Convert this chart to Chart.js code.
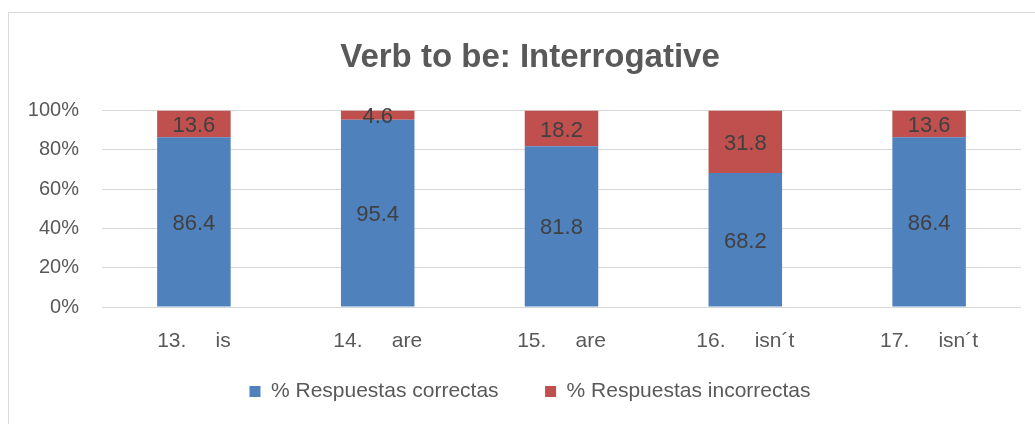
<!DOCTYPE html>
<html>
<head>
<meta charset="utf-8">
<title>Verb to be: Interrogative</title>
<script src="https://cdn.jsdelivr.net/npm/chart.js@4"></script>
<style>
  html, body { margin: 0; padding: 0; background: #ffffff; }
  body { width: 1035px; height: 424px; position: relative; overflow: hidden; }
  .frame {
    position: absolute; left: 8px; top: 12px;
    width: 1100px; height: 500px;
    border: 1px solid #d9d9d9;
  }
  #myChart { position: absolute; left: 0; top: 0; }
</style>
</head>
<body>
<div class="frame"></div>
<canvas id="myChart" width="1035" height="424"></canvas>
<script>
// questions and the verb form asked in each one
const questionNumbers = ['13.', '14.', '15.', '16.', '17.'];
const verbForms = ['is', 'are', 'are', 'isn\u00b4t', 'isn\u00b4t'];

// percentages per question
const correctas = [86.4, 95.4, 81.8, 68.2, 86.4];
const incorrectas = [13.6, 4.6, 18.2, 31.8, 13.6];

const yTicks = [0, 20, 40, 60, 80, 100];

// number and verb separated like a tab stop
const labels = questionNumbers.map((n, i) => n + '     ' + verbForms[i]);

const fontFamily = '"Liberation Sans", Arial, sans-serif';

// writes each segment's value in the middle of the segment
const valueLabels = {
  id: 'valueLabels',
  afterDatasetsDraw(chart) {
    const ctx = chart.ctx;
    ctx.save();
    ctx.font = '22px ' + fontFamily;
    ctx.fillStyle = '#404040';
    ctx.textAlign = 'center';
    ctx.textBaseline = 'middle';
    chart.data.datasets.forEach((ds, di) => {
      const meta = chart.getDatasetMeta(di);
      meta.data.forEach((bar, i) => {
        const p = bar.getProps(['x', 'y', 'base'], true);
        ctx.fillText(ds.data[i].toString(), p.x, (p.y + p.base) / 2 + 2);
      });
    });
    ctx.restore();
  }
};

const data = {
  labels: labels,
  datasets: [
    {
      label: '% Respuestas correctas',
      data: correctas,
      backgroundColor: '#4f81bd',
      barPercentage: 0.4,
      categoryPercentage: 1,
      yAxisID: 'y'
    },
    {
      label: '% Respuestas incorrectas',
      data: incorrectas,
      backgroundColor: '#c0504d',
      barPercentage: 0.4,
      categoryPercentage: 1,
      yAxisID: 'y'
    }
  ]
};

const config = {
  type: 'bar',
  data: data,
  options: {
    responsive: false,
    animation: false,
    layout: {
      padding: { left: 27, right: 2, top: 12, bottom: 12 }
    },
    scales: {
      x: {
        stacked: true,
        grid: { display: false },
        border: { display: false },
        ticks: {
          color: '#595959',
          padding: 15,
          maxRotation: 0,
          autoSkip: false,
          font: { family: fontFamily, size: 21, lineHeight: 1.1 }
        },
        afterFit: function (scale) { scale.height = 45; }
      },
      y: {
        stacked: true,
        min: 0,
        max: 100,
        afterBuildTicks: function (scale) {
          scale.ticks = yTicks.map(v => ({ value: v }));
        },
        grid: { color: '#d9d9d9', lineWidth: 1, drawTicks: false },
        border: { display: false },
        ticks: {
          color: '#595959',
          padding: 23,
          font: { family: fontFamily, size: 20 },
          callback: function (value) { return value + '%'; }
        },
        afterFit: function (scale) { scale.width = 75; }
      },
      // empty strip on the right so the title and legend sit centred on the frame
      yRight: {
        position: 'right',
        grid: { display: false },
        border: { display: false },
        ticks: { display: false },
        afterFit: function (scale) { scale.width = 12; }
      }
    },
    plugins: {
      title: {
        display: true,
        text: 'Verb to be: Interrogative',
        color: '#595959',
        font: { family: fontFamily, size: 33, weight: 'bold', lineHeight: 1.2 },
        padding: { top: 26, bottom: 33 }
      },
      legend: {
        position: 'bottom',
        labels: {
          color: '#595959',
          boxWidth: 11,
          boxHeight: 11,
          padding: 29,
          font: { family: fontFamily, size: 21 },
          // a little extra room after the first entry
          generateLabels: function (chart) {
            const items = Chart.defaults.plugins.legend.labels.generateLabels(chart);
            items[0].text = items[0].text + '   ';
            return items;
          }
        }
      },
      tooltip: { enabled: false }
    }
  },
  plugins: [valueLabels]
};

const myChart = new Chart(document.getElementById('myChart'), config);
</script>
</body>
</html>
